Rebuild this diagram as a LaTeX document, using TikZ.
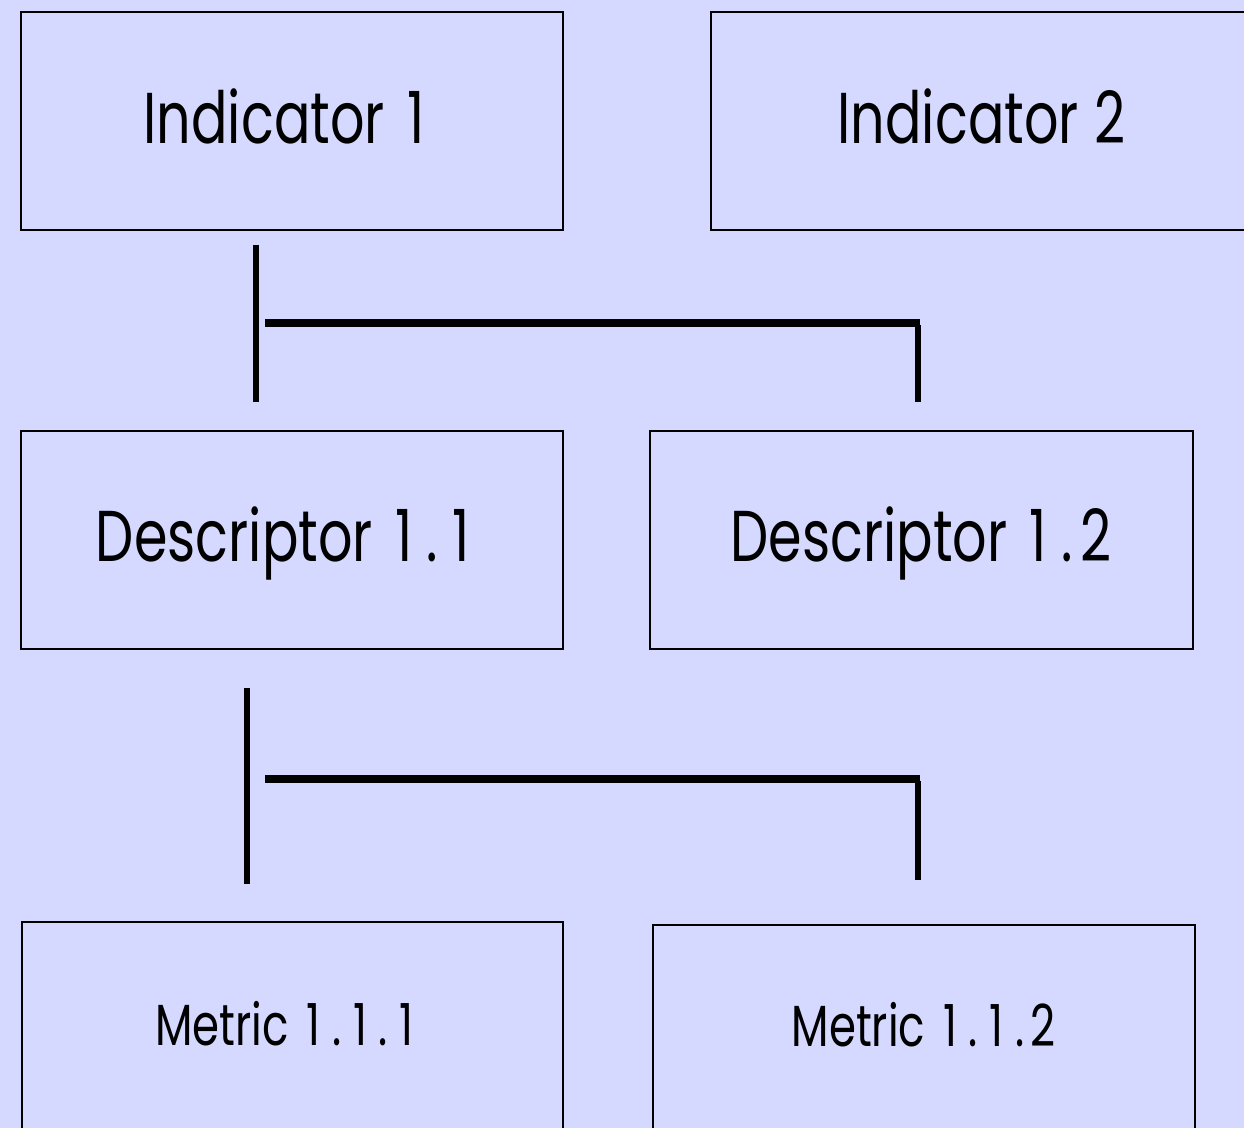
\documentclass[tikz,border=0pt]{standalone}
\usepackage{fontspec}
\setmainfont{Poppins}[FakeStretch=0.75]
\definecolor{bgblue}{RGB}{213,217,255}
\newcommand{\dg}[1]{\makebox[0.46em][c]{#1}}
\newcommand{\dt}{\makebox[0.34em][c]{.}}
\begin{document}
\begin{tikzpicture}[x=0.5pt,y=-0.5pt,
  box/.style={draw=black,line width=1pt,fill=bgblue,inner sep=0pt,anchor=north west},
  bigtxt/.style={font=\fontsize{36}{40}\selectfont},
  smalltxt/.style={font=\fontsize{29}{33}\selectfont},
  vconn/.style={line width=3.3pt,line cap=butt},
  hconn/.style={line width=3.9pt,line cap=butt}]
\fill[bgblue] (0,0) rectangle (1244,1128);
\useasboundingbox (0,0) rectangle (1244,1128);
\clip (0,0) rectangle (1244,1128);
% boxes
\node[box,minimum width=271pt,minimum height=109pt] (ind1) at (20,11) {};
\node[box,minimum width=271pt,minimum height=109pt] (ind2) at (710,11) {};
\node[box,minimum width=271pt,minimum height=109pt] (des1) at (20,430) {};
\node[box,minimum width=271.5pt,minimum height=109pt] (des2) at (649,430) {};
\node[box,minimum width=270.5pt,minimum height=110pt] (met1) at (21,921) {};
\node[box,minimum width=271pt,minimum height=110pt] (met2) at (652,924) {};
% labels
\node[bigtxt] (t1) at ([xshift=-2pt,yshift=2.5pt]ind1.center) {Indicator \dg{1}};
\node[bigtxt] (t2) at ([yshift=2.5pt]ind2.center) {Indicator \dg{2}};
\node[bigtxt] (t3) at ([xshift=-2.5pt,yshift=-1.5pt]des1.center) {Descriptor \dg{1}\dt\dg{1}};
\node[bigtxt] (t4) at ([yshift=-1.5pt]des2.center) {Descriptor \dg{1}\dt\dg{2}};
\node[smalltxt] (t5) at ([xshift=-2.5pt,yshift=4pt]met1.center) {Metric \dg{1}\dt\dg{1}\dt\dg{1}};
\node[smalltxt] (t6) at ([yshift=5pt]met2.center) {Metric \dg{1}\dt\dg{1}\dt\dg{2}};
% connector 1
\coordinate (a1) at (256,245);
\coordinate (a2) at (256,402);
\coordinate (b1) at (265,323);
\coordinate (b2) at (920,323);
\coordinate (c1) at (918,325);
\coordinate (c2) at (918,402);
\draw[vconn] (a1) -- (a2);
\draw[hconn] (b1) -- (b2);
\draw[vconn] (c1) -- (c2);
% connector 2
\coordinate (d1) at (247,688);
\coordinate (d2) at (247,884);
\coordinate (e1) at (265,779);
\coordinate (e2) at (920,779);
\coordinate (f1) at (918,781);
\coordinate (f2) at (918,880);
\draw[vconn] (d1) -- (d2);
\draw[hconn] (e1) -- (e2);
\draw[vconn] (f1) -- (f2);
\end{tikzpicture}
\end{document}
